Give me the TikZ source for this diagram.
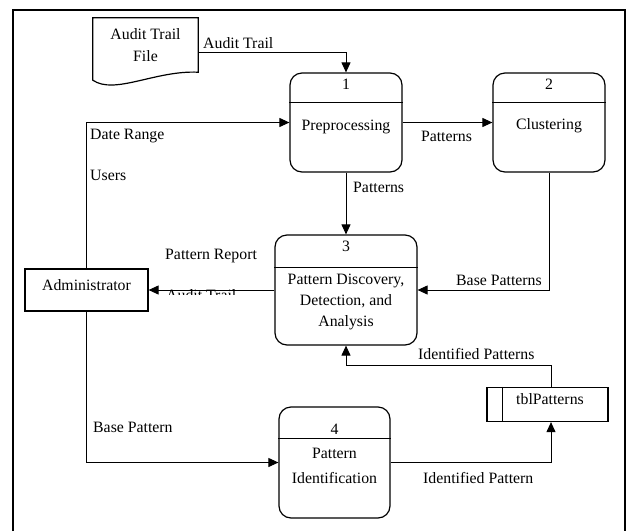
\documentclass[tikz,border=0pt]{standalone}
\usepackage{fontspec}
\setmainfont{Liberation Serif}
\usetikzlibrary{arrows.meta,calc}

\tikzset{
  proc/.style={draw, line width=1.2pt, rounded corners=12pt, inner sep=0pt},
  entity/.style={draw, line width=1.2pt, inner sep=0pt},
  rule/.style={line width=1.2pt},
  flow/.style={draw, line width=1pt, -{Triangle[length=10pt,width=9pt]}},
  lbl/.style={inner sep=0pt, anchor=base west},
  ctr/.style={inner sep=0pt, anchor=base},
}

\begin{document}
\begin{tikzpicture}[x=1pt, y=-1pt, font=\fontsize{15.8}{20}\selectfont]
\useasboundingbox (0,0) rectangle (627,531);

% page frame (open at the bottom)
\draw[line width=2pt] (13,531) -- (13,10) -- (625,10) -- (625,531);

% external file: document symbol
\node[inner sep=0pt, minimum width=105pt, minimum height=62pt] (doc) at (145.5,49) {};
\draw[rule] (doc.north west) -- (doc.south west)
  .. controls +(22,15) and +(-43,-2) .. ($(doc.south east)+(0,-8)$)
  -- (doc.north east) -- cycle;
\node[ctr] (doc1) at (145.5,39) {Audit Trail};
\node[ctr] (doc2) at (145.5,61) {File};

% process 1
\node[proc, minimum width=112pt, minimum height=99pt] (p1) at (346,122.5) {};
\draw[rule] ($(p1.north west)+(0,30)$) -- ($(p1.north east)+(0,30)$);
\node[ctr] (n1) at (346,89) {1};
\node[ctr] (t1) at (346,130) {Preprocessing};

% process 2
\node[proc, minimum width=112pt, minimum height=99pt] (p2) at (549,122.5) {};
\draw[rule] ($(p2.north west)+(0,30)$) -- ($(p2.north east)+(0,30)$);
\node[ctr] (n2) at (549,89) {2};
\node[ctr] (t2) at (549,129) {Clustering};

% process 3
\node[proc, minimum width=142pt, minimum height=110pt] (p3) at (346,290) {};
\draw[rule] ($(p3.north west)+(0,33)$) -- ($(p3.north east)+(0,33)$);
\node[ctr] (n3) at (346,251.5) {3};
\node[ctr] (t3a) at (346,284) {Pattern Discovery,};
\node[ctr] (t3b) at (346,305) {Detection, and};
\node[ctr] (t3c) at (346,326) {Analysis};

% process 4
\node[proc, minimum width=111pt, minimum height=111pt] (p4) at (334.5,462.5) {};
\draw[rule] ($(p4.north west)+(0,32)$) -- ($(p4.north east)+(0,32)$);
\node[ctr] (n4) at (334.5,434) {4};
\node[ctr] (t4a) at (334.5,458.5) {Pattern};
\node[ctr] (t4b) at (334.5,483) {Identification};

% external entity
\node[entity, minimum width=123pt, minimum height=42pt] (adm) at (86.5,290) {};
\node[ctr] (tadm) at (86.5,290.5) {Administrator};

% data store
\node[entity, minimum width=121pt, minimum height=34pt] (tbl) at (547.5,404.5) {};
\draw[rule] ($(tbl.north west)+(16,0)$) -- ($(tbl.south west)+(16,0)$);
\node[ctr] (ttbl) at (550,404.5) {tblPatterns};

% data flows
\draw[flow] ($(doc.east)+(0,3)$) -| (p1.north);
\draw[flow] (p1.east) -- (p2.west);
\draw[flow] (p1.south) -- (p3.north);
\draw[flow] (p2.south) |- (p3.east);
\draw[flow] (p3.west) -- (adm.east);
\draw[flow] (adm.north) |- (p1.west);
\draw[flow] (adm.south) |- (p4.west);
\draw[flow] (p4.east) -| ($(tbl.south)+(3.5,0)$);
\draw[flow] ($(tbl.north)+(3.5,0)$) -- ++(0,-21.5) -| (p3.south);

% flow labels
\node[lbl] (l1) at (203,48) {Audit Trail};
\node[ctr] (l2) at (446.5,141) {Patterns};
\node[lbl] (l3) at (353,192.5) {Patterns};
\node[lbl] (l4) at (456,285) {Base Patterns};
\node[lbl] (l5) at (165,259.5) {Pattern Report};
\begin{scope}
  \clip (160,287) rectangle (245,294);
  \node[lbl] (l6) at (166,300) {Audit Trail};
\end{scope}
\node[lbl] (l7) at (90,139) {Date Range};
\node[lbl] (l8) at (90,180) {Users};
\node[lbl] (l9) at (93,432) {Base Pattern};
\node[lbl] (l10) at (423,483.5) {Identified Pattern};
\node[lbl] (l11) at (418,359) {Identified Patterns};
\end{tikzpicture}
\end{document}
